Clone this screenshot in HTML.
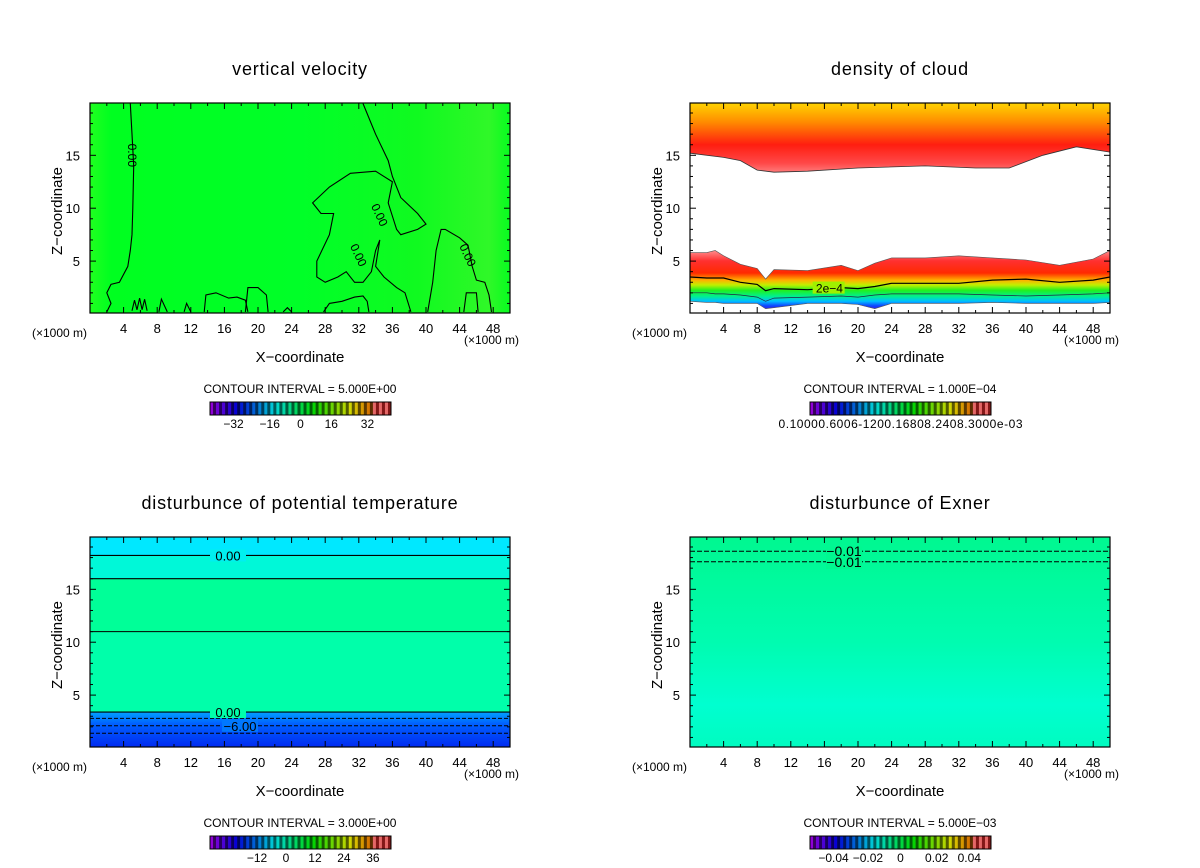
<!DOCTYPE html>
<html><head><meta charset="utf-8"><style>
body{margin:0;background:#fff}
svg{display:block}
text{font-family:"Liberation Sans",sans-serif;fill:#000}
</style></head><body>
<svg id="fig" width="1200" height="868" viewBox="0 0 1200 868" xmlns="http://www.w3.org/2000/svg">
<defs>
<linearGradient id="gTL" x1="0" y1="0" x2="1" y2="0">
<stop offset="0" stop-color="#20ff20"/><stop offset="0.05" stop-color="#00ff20"/><stop offset="0.5" stop-color="#00ff28"/><stop offset="0.78" stop-color="#10fa20"/><stop offset="0.95" stop-color="#30f828"/><stop offset="1" stop-color="#08fc20"/>
</linearGradient>
<linearGradient id="gTRup" gradientUnits="userSpaceOnUse" x1="0" y1="104" x2="0" y2="178">
<stop offset="0" stop-color="#ffd000"/><stop offset="0.25" stop-color="#ff8a00"/><stop offset="0.55" stop-color="#ff1e10"/><stop offset="0.8" stop-color="#ff4848"/><stop offset="1" stop-color="#ff9a9a"/>
</linearGradient>
<linearGradient id="gTRlow" gradientUnits="userSpaceOnUse" x1="0" y1="252" x2="0" y2="312">
<stop offset="0" stop-color="#ff8080"/><stop offset="0.15" stop-color="#ff3030"/><stop offset="0.35" stop-color="#ff2a00"/><stop offset="0.47" stop-color="#ffb000"/><stop offset="0.55" stop-color="#c0f000"/><stop offset="0.64" stop-color="#20f020"/><stop offset="0.74" stop-color="#00f090"/><stop offset="0.82" stop-color="#00c0ff"/><stop offset="0.9" stop-color="#1040ff"/><stop offset="1" stop-color="#6010d0"/>
</linearGradient>
<linearGradient id="gBR" x1="0" y1="0" x2="0" y2="1">
<stop offset="0" stop-color="#00f890"/><stop offset="0.5" stop-color="#00fcb0"/><stop offset="0.8" stop-color="#00ffd0"/><stop offset="1" stop-color="#00fcc0"/>
</linearGradient>
<linearGradient id="gBLlow" gradientUnits="userSpaceOnUse" x1="0" y1="711" x2="0" y2="748">
<stop offset="0" stop-color="#00a8ff"/><stop offset="0.35" stop-color="#0060ff"/><stop offset="1" stop-color="#0028f0"/>
</linearGradient>
</defs>
<g id="root"></g>
</svg>
<script>
// ---- shared axes data ----
const xTicks = [4, 8, 12, 16, 20, 24, 28, 32, 36, 40, 44, 48];
const zTicks = [5, 10, 15];
const xMin = 0, xMax = 50, zMin = 0, zMax = 19.85;

// ---- vertical velocity contours (x km, z km) ----
const vvLine1X = [4.8, 5, 5.2, 5.1, 5, 4.8, 4.5, 3.5, 2.5, 2, 2.5, 2];
const vvLine1Z = [19.9, 17, 14, 10, 7.5, 6, 4.5, 3, 2.8, 2, 1, 0.2];
const vvLine2X = [32.5, 34, 35.5, 36, 37, 39, 40, 39, 37, 36.5, 35.5, 36, 34, 31, 28.5, 26.5, 27.5, 29, 28.5, 27, 27, 28, 29.5, 30.5, 31.5, 32.5, 33.5, 34, 34.5, 34, 35, 36.5, 37.5, 38.2];
const vvLine2Z = [19.9, 17, 14.5, 13, 11, 9.5, 8.5, 8, 7.5, 8, 10.5, 12.5, 13.5, 13.3, 12, 10.5, 9.5, 9.5, 7.5, 5, 3.5, 3, 3.5, 4, 3, 3, 4, 6, 7, 4.5, 3.5, 2.5, 2, 0.2];
const vvLine3X = [40.2, 40.8, 41.2, 41.8, 42.3, 44, 45, 45.5, 46, 47, 47.5, 47.8];
const vvLine3Z = [0.2, 3, 6, 8, 8, 7.2, 6.5, 4.5, 3.2, 3, 1.8, 0.2];
const vvBumpsX = [[13.6,13.8,15,16.5,17.5,18.5,18.8], [18.5,18.8,20,21,21.2], [27.8,28.5,30,31.5,32.5,33,33.2], [8.2,8.5,9.2], [11.2,11.5,12], [23,23.5,24], [44.5,44.8,46,46.2], [5,5.3,5.6,5.9,6.2,6.5,6.8]];
const vvBumpsZ = [[0.2,1.8,2,1.5,1.6,1.3,0.2], [0.2,2.5,2.5,1.8,0.2], [0.2,1,1.2,1.6,1.7,1.2,0.2], [0.2,1.4,0.2], [0.2,1,0.2], [0.2,0.6,0.2], [0.2,2,2,0.2], [0.3,1.3,0.4,1.5,0.4,1.4,0.3]];
const vvLabelsX = [5, 34.5, 32, 45];
const vvLabelsZ = [15, 9.2, 5.4, 5.4];

// ---- density of cloud ----
const cldUpX = [0, 4, 6, 8, 10, 14, 20, 28, 34, 38, 42, 46, 50];
const cldUpZ = [15.2, 14.8, 14.5, 13.6, 13.4, 13.5, 13.8, 14, 13.8, 13.8, 15, 15.8, 15.3];
const cldLowX = [0, 2, 3, 4, 6, 8, 9, 10, 14, 18, 20, 22, 24, 28, 32, 36, 40, 44, 48, 50];
const cldLowTop = [5.8, 5.8, 6, 5.5, 4.7, 4.3, 3.3, 4.2, 4.1, 4.6, 4.1, 4.8, 5.3, 5.3, 5.5, 5.3, 5.1, 4.6, 5.2, 6];
const cld2e4 = [3.5, 3.4, 3.4, 3.4, 3.0, 2.8, 2.2, 2.4, 2.3, 2.5, 2.4, 2.6, 2.9, 2.9, 2.9, 3.2, 3.3, 3.0, 3.2, 3.5];
const cldLine2 = [2.0, 2.0, 1.9, 1.9, 1.8, 1.6, 1.2, 1.5, 1.6, 1.7, 1.6, 1.8, 1.9, 1.9, 1.9, 1.8, 1.7, 1.8, 1.9, 2.0];
const cldLowBot = [1.2, 1.1, 1.1, 1.0, 1.0, 1.0, 0.5, 0.6, 1.0, 1.0, 0.9, 0.5, 1.0, 1.0, 1.0, 1.1, 1.0, 1.0, 1.0, 1.1];

// ---- potential temperature contours ----
const ptSolidZ = [18.2, 16, 11, 3.4];
const ptDashedZ = [2.8, 2.1, 1.4];
const ptBandZ = [19.9, 18.2, 16, 11, 3.4];
const ptBandColors = ['#00e8ff', '#00f8d8', '#00ff98', '#00ffaa'];
const ptLabelsZ = [18.2, 3.4, 2.1];
const ptLabels = ['0.00', '0.00', '-6.00'];

// ---- Exner ----
const exDashedZ = [18.6, 17.6];

// ---- colorbar tick labels ----
const cbTL = ['-32', '-16', '0', '16', '32'];
const cbTLpos = [0.13, 0.33, 0.5, 0.67, 0.87];
const cbTR = ['0.10000.6006-1200.16808.2408.3000e-03'];
const cbBL = ['-12', '0', '12', '24', '36'];
const cbBLpos = [0.26, 0.42, 0.58, 0.74, 0.9];
const cbBR = ['-0.04', '-0.02', '0', '0.02', '0.04'];
const cbBRpos = [0.13, 0.32, 0.5, 0.7, 0.88];

const NS = 'http://www.w3.org/2000/svg';
const root = document.getElementById('root');
function mk(tag, attrs, parent) {
  const e = document.createElementNS(NS, tag);
  for (const k in attrs) e.setAttribute(k, attrs[k]);
  (parent || root).appendChild(e);
  return e;
}
function txt(s, x, y, size, anchor, parent) {
  const t = mk('text', {x: x, y: y, 'font-size': size, 'text-anchor': anchor || 'middle'}, parent);
  t.textContent = s;
  return t;
}
const W = 420, H = 210;
function makeAxes(ox, oy) {
  const sx = x => ox + (x - xMin) / (xMax - xMin) * W;
  const sz = z => oy + H - (z - zMin) / (zMax - zMin) * H + 1;
  return {sx, sz};
}
function polyPath(ax, xs, zs) {
  return xs.map((x, i) => (i ? 'L' : 'M') + ax.sx(x).toFixed(1) + ',' + ax.sz(zs[i]).toFixed(1)).join('');
}
function frame(g, ox, oy, title, ci, cbLabels, cbPos) {
  const ax = makeAxes(ox, oy);
  const f = mk('rect', {x: ox, y: oy, width: W, height: H, fill: 'none', stroke: '#000', 'stroke-width': 1.2}, g);
  
  
  for (let x = 2; x < 50; x += 2) {
    const big = x % 4 === 0;
    const L = big ? 6 : 3;
    mk('line', {x1: ax.sx(x), x2: ax.sx(x), y1: oy, y2: oy + L, stroke: '#000'}, g);
    mk('line', {x1: ax.sx(x), x2: ax.sx(x), y1: oy + H, y2: oy + H - L, stroke: '#000'}, g);
  }
  for (let z = 1; z < 20; z++) {
    const big = z % 5 === 0;
    const L = big ? 6 : 3;
    mk('line', {x1: ox, x2: ox + L, y1: ax.sz(z), y2: ax.sz(z), stroke: '#000'}, g);
    mk('line', {x1: ox + W, x2: ox + W - L, y1: ax.sz(z), y2: ax.sz(z), stroke: '#000'}, g);
  }
  xTicks.forEach(x => {
    const t = txt(String(x), ax.sx(x), oy + H + 20, 13, 'middle', g);
    
    
  });
  zTicks.forEach(z => {
    const t = txt(String(z), ox - 10, ax.sz(z) + 5, 13, 'end', g);
    
    
  });
  let t = txt(title, ox + W / 2, oy - 28, 18, 'middle', g);
  
  
  t.setAttribute('letter-spacing', '0.8');
  t = txt('(×1000 m)', ox - 58, oy + H + 24, 12, 'start', g);
  
  
  t = txt('(×1000 m)', ox + W + 9, oy + H + 31, 12, 'end', g);
  
  
  t = txt('X\u2212coordinate', ox + W / 2, oy + H + 49, 15, 'middle', g);
  
  
  t = txt('Z\u2212coordinate', 0, 0, 15, 'middle', g);
  t.setAttribute('transform', 'translate(' + (ox - 28) + ',' + (oy + H / 2 + 3) + ') rotate(-90)');
  
  
  t = txt('CONTOUR INTERVAL = ' + ci, ox + W / 2, oy + H + 80, 12, 'middle', g);
  
  
  // colorbar
  const cb = mk('g', {}, g);
  
  
  const cx = ox + 120, cy = oy + H + 89, cw = 181, ch = 13, n = 60;
  for (let i = 0; i < n; i++) {
    const f2 = i / (n - 1);
    const hue = 280 - f2 * 280;
    const light = (i % 2) ? 18 : 42;
    let col = 'hsl(' + (hue < 0 ? hue + 360 : hue) + ',100%,' + light + '%)';
    if (f2 > 0.9) col = 'hsl(0,70%,' + ((i % 2) ? 30 : 65) + '%)';
    mk('rect', {x: cx + i * cw / n, y: cy, width: cw / n + 0.3, height: ch, fill: col}, cb);
  }
  mk('rect', {x: cx, y: cy, width: cw, height: ch, fill: 'none', stroke: '#000'}, cb);
  if (cbPos) {
    cbLabels.forEach((s, i) => {
      const tl = txt(s.replace(/-/g, '\u2212'), cx + cbPos[i] * cw, cy + ch + 13, 12, 'middle', cb);
      
      
    });
  } else {
    const tl = txt(cbLabels[0], cx + cw / 2, cy + ch + 13, 12, 'middle', cb);
    tl.setAttribute('textLength', 244);
    
    
  }
  return ax;
}
function clip(id, ox, oy) {
  const c = mk('clipPath', {id: id});
  mk('rect', {x: ox, y: oy, width: W, height: H}, c);
}

// ===== Panel 1: vertical velocity =====
(function () {
  const ox = 90, oy = 103;
  const g = mk('g', {});
  
  
  clip('c1', ox, oy);
  const bg = mk('rect', {x: ox, y: oy, width: W, height: H, fill: 'url(#gTL)'}, g);
  
  
  const ax = makeAxes(ox, oy);
  const cg = mk('g', {'clip-path': 'url(#c1)', fill: 'none', stroke: '#000', 'stroke-width': 1.1}, g);
  [[vvLine1X, vvLine1Z], [vvLine2X, vvLine2Z], [vvLine3X, vvLine3Z]].forEach(l => {
    const p = mk('path', {d: polyPath(ax, l[0], l[1])}, cg);
    
    
  });
  vvBumpsX.forEach((xs, i) => {
    const p = mk('path', {d: polyPath(ax, xs, vvBumpsZ[i])}, cg);
    
    
  });
  vvLabelsX.forEach((x, i) => {
    const t = txt('0.00', 0, 0, 12, 'middle', g);
    t.setAttribute('transform', 'translate(' + (ax.sx(x) - 4) + ',' + ax.sz(vvLabelsZ[i]) + ') rotate(' + (i === 0 ? 90 : 65) + ')');
    
    
  });
  frame(g, ox, oy, 'vertical velocity', '5.000E+00', cbTL, cbTLpos);
})();

// ===== Panel 2: density of cloud =====
(function () {
  const ox = 690, oy = 103;
  const g = mk('g', {});
  
  
  clip('c2', ox, oy);
  const ax = makeAxes(ox, oy);
  const cg = mk('g', {'clip-path': 'url(#c2)'}, g);
  mk('rect', {x: ox, y: oy, width: W, height: H, fill: '#fff'}, cg);
  let d = 'M' + ax.sx(0) + ',' + (oy - 2) + 'L' + ax.sx(50) + ',' + (oy - 2) + polyPath(ax, cldUpX.slice().reverse(), cldUpZ.slice().reverse()).replace('M', 'L') + 'Z';
  let p = mk('path', {d: d, fill: 'url(#gTRup)', stroke: '#333', 'stroke-width': 0.8}, cg);
  
  
  d = polyPath(ax, cldLowX, cldLowTop) + polyPath(ax, cldLowX.slice().reverse(), cldLowBot.slice().reverse()).replace('M', 'L') + 'Z';
  p = mk('path', {d: d, fill: 'url(#gTRlow)', stroke: '#555', 'stroke-width': 0.6}, cg);
  
  
  p = mk('path', {d: polyPath(ax, cldLowX, cld2e4), fill: 'none', stroke: '#000', 'stroke-width': 1.2}, cg);
  
  
  p = mk('path', {d: polyPath(ax, cldLowX, cldLine2), fill: 'none', stroke: '#224', 'stroke-width': 0.7}, cg);
  
  
  mk('rect', {x: ax.sx(14.6), y: ax.sz(2.4) - 7, width: 32, height: 12, fill: '#a0f000'}, g);
  const t = txt('2e\u22124', ax.sx(16.6), ax.sz(2.4) + 4, 12, 'middle', g);
  
  
  frame(g, ox, oy, 'density of cloud', '1.000E\u221204', cbTR, null);
})();

// ===== Panel 3: potential temperature =====
(function () {
  const ox = 90, oy = 537;
  const g = mk('g', {});
  
  
  clip('c3', ox, oy);
  const ax = makeAxes(ox, oy);
  const cg = mk('g', {'clip-path': 'url(#c3)'}, g);
  mk('rect', {x: ox, y: oy, width: W, height: H, fill: 'url(#gBLlow)'}, cg);
  ptBandZ.forEach((z, i) => {
    if (i === ptBandZ.length - 1) return;
    const r = mk('rect', {x: ox, y: ax.sz(z) - (i ? 0 : 3), width: W, height: ax.sz(ptBandZ[i + 1]) - ax.sz(z) + (i ? 0 : 3), fill: ptBandColors[i]}, cg);
    
    
  });
  ptSolidZ.forEach(z => {
    const l = mk('line', {x1: ox, x2: ox + W, y1: ax.sz(z), y2: ax.sz(z), stroke: '#000', 'stroke-width': 1.1}, cg);
    
    
  });
  ptDashedZ.forEach(z => {
    const l = mk('line', {x1: ox, x2: ox + W, y1: ax.sz(z), y2: ax.sz(z), stroke: '#000', 'stroke-width': 1, 'stroke-dasharray': '4,2'}, cg);
    
    
  });
  ptLabelsZ.forEach((z, i) => {
    const xc = i === 2 ? 240 : 228;
    mk('rect', {x: xc - 18, y: ax.sz(z) - 6, width: 36, height: 12, fill: i === 0 ? '#00f0f0' : (i === 1 ? '#00ffaa' : '#0078ff')}, g);
    const t = txt(ptLabels[i].replace('-', '\u2212'), xc, ax.sz(z) + 5, 13, 'middle', g);
    
    
  });
  frame(g, ox, oy, 'disturbunce of potential temperature', '3.000E+00', cbBL, cbBLpos);
})();

// ===== Panel 4: Exner =====
(function () {
  const ox = 690, oy = 537;
  const g = mk('g', {});
  
  
  const ax = makeAxes(ox, oy);
  const bg = mk('rect', {x: ox, y: oy, width: W, height: H, fill: 'url(#gBR)'}, g);
  
  
  exDashedZ.forEach(z => {
    const l = mk('line', {x1: ox, x2: ox + W, y1: ax.sz(z), y2: ax.sz(z), stroke: '#000', 'stroke-width': 1, 'stroke-dasharray': '5,2'}, g);
    
    
  });
  mk('rect', {x: 826, y: ax.sz(19), width: 36, height: 22, fill: '#00f890'}, g);
  exDashedZ.forEach(z => {
    const t = txt('\u22120.01', 844, ax.sz(z) + 5, 14, 'middle', g);
    
    
  });
  frame(g, ox, oy, 'disturbunce of Exner', '5.000E\u221203', cbBR, cbBRpos);
})();
</script>
</body></html>
